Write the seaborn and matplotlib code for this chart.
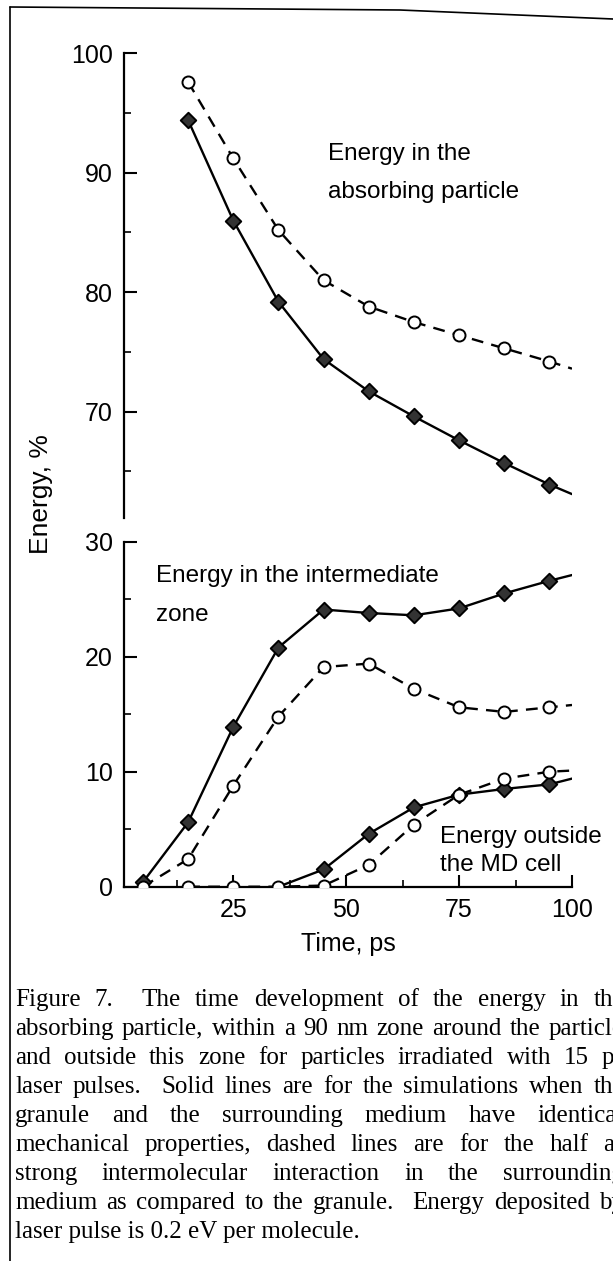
import pandas as pd
import matplotlib
matplotlib.use("Agg")
import matplotlib.pyplot as plt
from matplotlib.lines import Line2D
from matplotlib.ticker import MultipleLocator, FixedLocator
import seaborn as sns

# time points (ps) of the simulation snapshots
t_all = [5, 15, 25, 35, 45, 55, 65, 75, 85, 95]
t_from15 = [15, 25, 35, 45, 55, 65, 75, 85, 95]
t_from35 = [35, 45, 55, 65, 75, 85, 95]

# energy in the absorbing particle, % (upper panel)
absorb_solid = [94.4, 86.0, 79.2, 74.4, 71.7, 69.6, 67.6, 65.7, 63.9]
absorb_dashed = [97.6, 91.2, 85.2, 81.0, 78.8, 77.5, 76.4, 75.3, 74.2]
absorb_solid_end = 63.1   # value where the curve stops at t = 100
absorb_dashed_end = 73.6

# energy in the intermediate zone, % (lower panel)
inter_solid = [0.4, 5.6, 13.9, 20.8, 24.1, 23.8, 23.6, 24.2, 25.5, 26.6]
inter_dashed = [0.0, 2.4, 8.8, 14.8, 19.1, 19.4, 17.2, 15.6, 15.2, 15.6]
inter_solid_end = 27.1
inter_dashed_end = 15.8

# energy outside the MD cell, % (lower panel)
outer_solid = [0.0, 1.5, 4.6, 6.9, 8.0, 8.5, 8.9]   # marker only from t = 45
outer_dashed = [0.0, 0.0, 0.0, 0.1, 1.9, 5.4, 8.0, 9.4, 10.0]
outer_solid_end = 9.4
outer_dashed_end = 10.1

caption_lines = [
    "Figure 7.  The time development of the energy in the",
    "absorbing particle, within a 90 nm zone around the particle",
    "and outside this zone for particles irradiated with 15 ps",
    "laser pulses.  Solid lines are for the simulations when the",
    "granule and the surrounding medium have identical",
    "mechanical properties, dashed lines are for the half as",
    "strong intermolecular interaction in the surrounding",
    "medium as compared to the granule.  Energy deposited by",
    "laser pulse is 0.2 eV per molecule.",
]

sns.set_style("ticks")
plt.rcParams["font.family"] = ["Liberation Sans", "DejaVu Sans"]
for k in ("text.color", "axes.labelcolor", "xtick.color", "ytick.color",
          "axes.edgecolor"):
    plt.rcParams[k] = "black"

W, H = 613, 1261
fig = plt.figure(figsize=(W / 100, H / 100), dpi=100)
x0, x1 = 124 / W, 572 / W
ax_top = fig.add_axes([x0, 1 - 518 / H, x1 - x0, (518 - 53.3) / H])
ax_bot = fig.add_axes([x0, 1 - 886.7 / H, x1 - x0, (886.7 - 541.7) / H])

DASH = (0, (5, 3.5))


def draw(ax, t, vals, end, dashed, first_marker=None):
    df = pd.DataFrame({"time": list(t) + [100], "energy": list(vals) + [end]})
    sns.lineplot(data=df, x="time", y="energy", ax=ax, color="black", lw=1.7,
                 linestyle=DASH if dashed else "-", sort=False, estimator=None)
    pts = df.iloc[:-1]
    if first_marker is not None:
        pts = pts[pts["time"] >= first_marker]
    if dashed:
        sns.scatterplot(data=pts, x="time", y="energy", ax=ax, marker="o", s=75,
                        color="white", edgecolor="black", linewidth=1.4, zorder=4)
    else:
        sns.scatterplot(data=pts, x="time", y="energy", ax=ax, marker="D", s=62,
                        color="#333333", edgecolor="black", linewidth=1.4, zorder=3)


draw(ax_top, t_from15, absorb_solid, absorb_solid_end, False)
draw(ax_top, t_from15, absorb_dashed, absorb_dashed_end, True)
draw(ax_bot, t_all, inter_solid, inter_solid_end, False)
draw(ax_bot, t_all, inter_dashed, inter_dashed_end, True)
draw(ax_bot, t_from35, outer_solid, outer_solid_end, False, first_marker=45)
draw(ax_bot, t_from15, outer_dashed, outer_dashed_end, True)

for ax in (ax_top, ax_bot):
    ax.set_xlim(0.8, 100)
    ax.set_xlabel("")
    ax.set_ylabel("")
    sns.despine(ax=ax)
    ax.spines["left"].set_linewidth(1.6)
    ax.spines["bottom"].set_linewidth(1.6)
    ax.tick_params(which="major", direction="in", length=9, width=1.5,
                   labelsize=18, pad=8)
    ax.tick_params(which="minor", direction="in", length=5, width=1.2)

ax_top.set_ylim(61.1, 100)
ax_top.yaxis.set_major_locator(MultipleLocator(10))
ax_top.yaxis.set_minor_locator(FixedLocator([65, 75, 85, 95]))
ax_top.spines["bottom"].set_visible(False)
ax_top.set_xticks([])

ax_bot.set_ylim(0, 30)
ax_bot.yaxis.set_major_locator(MultipleLocator(10))
ax_bot.yaxis.set_minor_locator(FixedLocator([5, 15, 25]))
ax_bot.xaxis.set_major_locator(FixedLocator([25, 50, 75, 100]))
ax_bot.xaxis.set_minor_locator(FixedLocator([12.5, 37.5, 62.5, 87.5]))
ax_bot.set_xlabel("Time, ps", fontsize=18, labelpad=7)

note_kw = dict(fontsize=17.5, va="center", ha="left")
ax_top.text(46.0, 91.6, "Energy in the", **note_kw)
ax_top.text(46.0, 88.4, "absorbing particle", **note_kw)
ax_bot.text(7.8, 27.0, "Energy in the intermediate", **note_kw)
ax_bot.text(7.8, 23.6, "zone", **note_kw)
ax_bot.text(70.8, 4.3, "Energy outside", **note_kw)
ax_bot.text(70.8, 1.9, "the MD cell", **note_kw)

fig.text(41 / W, 1 - 494 / H, "Energy, %", rotation=90, fontsize=19,
         ha="center", va="center")

# scanned page frame
fig.add_artist(Line2D([10 / W, 10 / W], [0, 1 - 7 / H], transform=fig.transFigure,
                      color="black", lw=1.2))
fig.add_artist(Line2D([10 / W, 400 / W, 613 / W], [1 - 7 / H, 1 - 10 / H, 1 - 19 / H],
                      transform=fig.transFigure, color="black", lw=1.2))

# justified caption, cut at the right edge like the scan
cap_kw = dict(family=["Liberation Serif", "DejaVu Serif"], fontsize=18,
              va="baseline", ha="left")
left_px, right_px = 15, 624
fig.canvas.draw()
renderer = fig.canvas.get_renderer()
for i, line in enumerate(caption_lines):
    y = 1 - (1006 + i * 29.0) / H
    if i == len(caption_lines) - 1:
        fig.text(left_px / W, y, line, **cap_kw)
        continue
    words = line.replace("  ", " \u0000").split(" ")
    weights = [2 if w.startswith("\u0000") else 1 for w in words[1:]]
    words = [w.replace("\u0000", "") for w in words]
    texts = [fig.text(0, y, w, **cap_kw) for w in words]
    widths = [t.get_window_extent(renderer).width for t in texts]
    gap = (right_px - left_px - sum(widths)) / sum(weights)
    x = left_px
    for j, (t, w) in enumerate(zip(texts, widths)):
        t.set_x(x / W)
        if j < len(weights):
            x += w + gap * weights[j]

fig.savefig("out.png", dpi=100)
